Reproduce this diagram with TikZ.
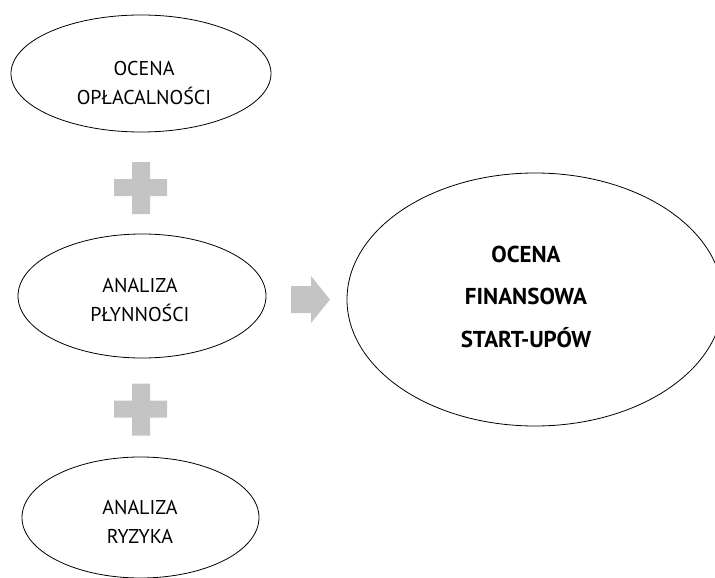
\documentclass[tikz,border=0pt]{standalone}
\usepackage{fontspec}
\setmainfont{PT Sans}
\usetikzlibrary{shapes.geometric}
\definecolor{signgray}{RGB}{196,196,196}

\begin{document}
\begin{tikzpicture}[x=1pt, y=-1pt, line width=0.8pt,
    oval/.style={shape=ellipse, draw, inner sep=0pt},
    txt/.style={align=center, inner sep=0pt, font=\fontsize{20}{29}\selectfont},
    bigtxt/.style={align=center, inner sep=0pt, font=\fontsize{23}{42.5}\selectfont\bfseries}]
    \useasboundingbox (0, 0) rectangle (715, 578);

    \node [oval, minimum width=260pt, minimum height=117pt] (op) at (141, 73.5) {};
    \node [oval, minimum width=248pt, minimum height=124pt] (pl) at (142, 296) {};
    \node [oval, minimum width=237pt, minimum height=121pt] (ry) at (140.5, 517.5) {};
    \node [oval, minimum width=376pt, minimum height=253pt] (fin) at (535, 299.5) {};

    \node [txt]    (op-t)  at (144, 82.5)  {OCENA\\OPŁACALNOŚCI};
    \node [txt]    (pl-t)  at (140, 300.5) {ANALIZA\\PŁYNNOŚCI};
    \node [txt]    (ry-t)  at (140, 522)   {ANALIZA\\RYZYKA};
    \node [bigtxt] (fin-t) at (526, 296.5) {OCENA\\FINANSOWA\\START-UPÓW};

    % plus signs
    \foreach \cy in {188, 409.5} {
        \fill [signgray] (132, \cy-26) -- (150, \cy-26) -- (150, \cy-9)
            -- (167, \cy-9) -- (167, \cy+8) -- (150, \cy+8) -- (150, \cy+26)
            -- (132, \cy+26) -- (132, \cy+8) -- (114, \cy+8) -- (114, \cy-9)
            -- (132, \cy-9) -- cycle;
    }

    % arrow
    \fill [signgray] (291, 286) -- (311, 286) -- (311, 276) -- (330, 299.5)
        -- (311, 323) -- (311, 313) -- (291, 313) -- cycle;
\end{tikzpicture}
\end{document}
